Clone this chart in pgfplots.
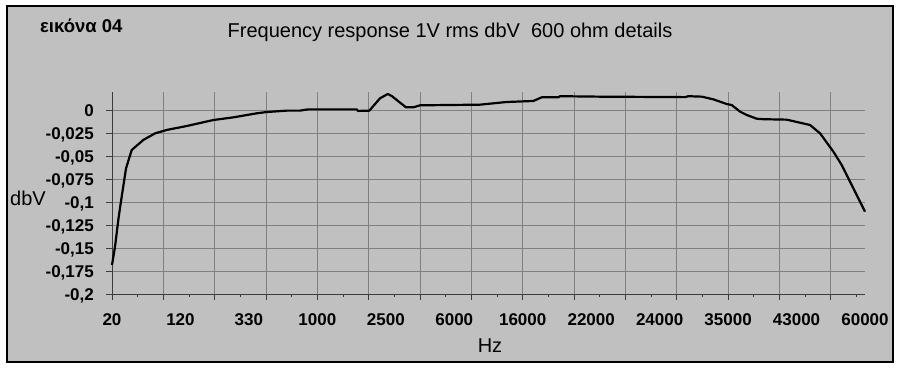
\documentclass[border=0pt]{standalone}
\usepackage{fontspec}
\setmainfont{Liberation Sans}
\usepackage{pgfplots}
\pgfplotsset{compat=1.18}
\definecolor{bg}{RGB}{192,192,192}
\definecolor{gridc}{RGB}{128,128,128}
\definecolor{axc}{RGB}{60,60,60}
\pgfplotsset{common/.style={
  at={(112pt,74pt)}, anchor=south west,
  scale only axis, width=753pt, height=202.4pt,
  xmin=0, xmax=11, ymin=-0.2, ymax=0.02}}
\begin{document}
\begin{tikzpicture}[x=1pt,y=1pt]
\useasboundingbox (0,0) rectangle (900,368);
\fill[white] (0,0) rectangle (900,368);
\filldraw[fill=bg, draw=black, line width=1.2pt] (7,6) rectangle (893,362);
\begin{axis}[
  common,
  axis x line*=bottom, axis y line*=left,
  axis line style={-, draw=axc, line width=1pt},
  tick align=outside,
  tick style={draw=axc, line width=1pt},
  major tick length=6pt,
  minor tick length=3pt,
  xtick={0,0.75,...,10.5},
  xticklabel=\empty,
  minor xtick={0.375,1.125,...,10.875},
  xmajorgrids=true,
  ytick={-0.2,-0.175,-0.15,-0.125,-0.1,-0.075,-0.05,-0.025,0},
  yticklabels={{-0,2},{-0,175},{-0,15},{-0,125},{-0,1},{-0,075},{-0,05},{-0,025},{0}},
  ymajorgrids=true,
  grid style={draw=gridc, line width=0.8pt},
  yticklabel style={anchor=base east, inner sep=0pt, xshift=-12pt, yshift=-6pt, font=\bfseries\fontsize{17}{17}\selectfont},
  clip=false,
]
\addplot[black, line width=2.2pt, line join=round] coordinates {
(0,-0.1685) (0.044,-0.1486) (0.092,-0.1196) (0.127,-0.1014) (0.205,-0.0634)
(0.288,-0.0435) (0.457,-0.0326) (0.628,-0.0254) (0.799,-0.0217) (1.091,-0.0174)
(1.480,-0.0109) (1.772,-0.0080) (2.114,-0.0036) (2.260,-0.0022) (2.552,-0.0007)
(2.747,-0.0007) (2.863,0.0007) (3.575,0.0007) (3.594,-0.0010) (3.759,-0.0007)
(3.915,0.0127) (4.028,0.0174) (4.086,0.0152) (4.295,0.0029) (4.402,0.0029)
(4.500,0.0051) (5.376,0.0058) (5.766,0.0087) (6.155,0.0098) (6.278,0.0138)
(6.520,0.0138) (6.545,0.0150) (7.129,0.0145) (8.371,0.0140) (8.419,0.0150)
(8.615,0.0145) (8.784,0.0116) (8.980,0.0065) (9.053,0.0054) (9.175,-0.0018)
(9.272,-0.0054) (9.419,-0.0095) (9.515,-0.0100) (9.857,-0.0105) (10.197,-0.0163)
(10.344,-0.0254) (10.538,-0.0453) (10.660,-0.0598) (10.830,-0.0851) (11,-0.1105)
};
\end{axis}
\begin{axis}[
  common,
  axis x line*=bottom, axis y line=none,
  x axis line style={draw=none},
  major tick length=0pt,
  xtick={0,1,...,11},
  xticklabels={20,120,330,1000,2500,6000,16000,22000,24000,35000,43000,60000},
  xticklabel style={anchor=north, inner sep=0pt, yshift=-19pt, font=\bfseries\fontsize{17}{17}\selectfont},
]
\end{axis}
\node[anchor=base west, inner sep=0pt, font=\bfseries\fontsize{18.5}{18.5}\selectfont] at (40,336) {εικόνα 04};
\node[anchor=base, inner sep=0pt, font=\fontsize{20}{20}\selectfont] at (450,331) {Frequency response 1V rms dbV\ \ 600 ohm details};
\node[anchor=base west, inner sep=0pt, font=\fontsize{20}{20}\selectfont] at (10,163) {dbV};
\node[anchor=base, inner sep=0pt, font=\fontsize{20}{20}\selectfont] at (490,16) {Hz};
\end{tikzpicture}
\end{document}
